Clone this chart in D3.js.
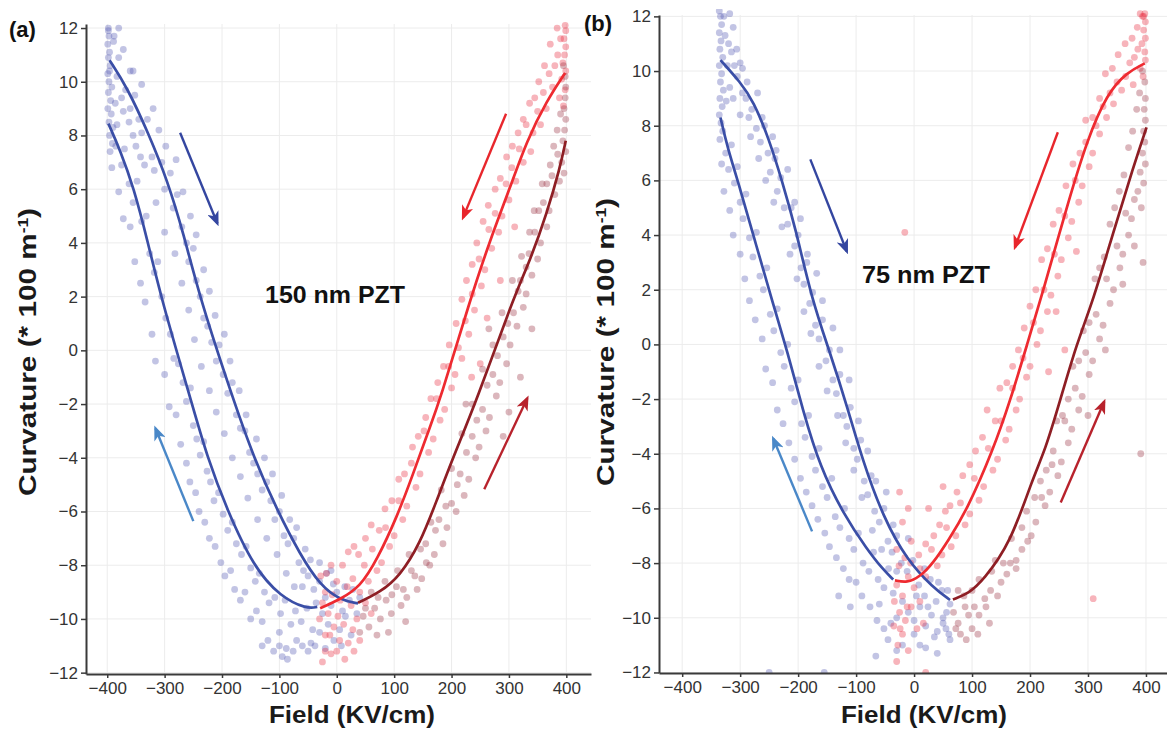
<!DOCTYPE html>
<html>
<head>
<meta charset="utf-8">
<script src="https://cdn.jsdelivr.net/npm/d3@7"></script>
<style>
  body { margin: 0; background: #fff; }
  svg { font-family: "Liberation Sans", Arial, sans-serif; }
</style>
</head>
<body>
<svg id="chart" width="1167" height="729"></svg>
<script>
// ---- data ----
const fieldTicks = [-400, -300, -200, -100, 0, 100, 200, 300, 400];
const curvTicks = [-12, -10, -8, -6, -4, -2, 0, 2, 4, 6, 8, 10, 12];

// panel (a) 150 nm PZT : fitted branches
const aBlueUpper = [[-396,10.8],[-365,9.78],[-328,8.07],[-295,6.32],[-267,4.35],[-238,1.9],[-180,-1.86],[-145,-3.97],[-104,-5.95],[-64,-7.6],[-29,-8.75],[6,-9.3],[37,-9.42]];
const aBlueLower = [[-398,8.44],[-377,7.43],[-354,6.06],[-330,4.1],[-305,1.86],[-254,-1.86],[-226,-3.97],[-191,-5.95],[-145,-8.07],[-98,-9.18],[-52,-9.63],[-34,-9.55]];
const aRedDown = [[-29,-9.6],[6,-9.27],[41,-8.8],[70,-7.8],[105,-6.2],[133,-4.6],[158,-3.1],[180,-1.86],[232,1.86],[267,4.1],[302,6.06],[331,7.8],[366,9.3],[398,10.33]];
const aRedUp = [[37,-9.4],[76,-9.0],[110,-8.4],[145,-7.2],[174,-5.6],[203,-3.97],[244,-1.86],[306,1.86],[337,3.35],[366,5.1],[389,6.8],[399,7.8]];

// panel (a) measured points
const aBluePts = [
  [-398,12.0],[-397,11.7],[-399,11.4],[-396,11.1],[-398,10.9],[-395,10.6],[-399,10.3],[-397,10.0],[-392,9.8],[-398,9.6],
  [-394,9.3],[-399,9.0],[-393,8.8],[-397,8.5],[-390,8.3],[-396,8.0],[-391,7.7],[-395,7.4],[-386,9.2],[-383,10.2],
  [-380,10.9],[-372,11.2],[-375,9.4],[-368,9.7],[-360,9.0],[-352,9.5],[-345,8.6],[-398,11.9],[-396,10.4],[-389,11.5],
  [-340,8.1],[-330,8.6],[-322,7.2],[-318,6.7],[-305,7.0],[-300,6.0],[-290,6.6],[-285,5.3],[-278,5.8],[-270,4.6],
  [-262,4.0],[-258,3.3],[-250,3.8],[-245,2.6],[-238,2.0],[-232,1.2],[-225,0.9],[-218,0.3],[-210,-0.4],[-205,0.2],
  [-198,-0.9],[-190,-1.6],[-182,-1.2],[-175,-2.4],[-168,-2.9],[-160,-3.0],[-152,-3.8],[-145,-4.2],[-138,-4.6],[-130,-5.2],
  [-122,-4.9],[-115,-5.6],[-108,-6.3],[-100,-6.0],[-92,-6.9],[-85,-7.2],[-75,-7.0],[-66,-7.9],[-58,-8.2],[-50,-8.4],
  [-40,-8.9],[-30,-8.6],[-20,-9.2],[-10,-9.5],[0,-9.0],[10,-9.7],[22,-9.3],[35,-9.8],
  [-385,7.6],[-375,6.9],[-370,7.5],[-362,6.2],[-355,5.5],[-348,6.3],[-340,4.8],[-332,5.0],[-326,3.6],[-318,2.9],
  [-312,3.3],[-305,2.0],[-298,1.2],[-290,0.6],[-284,-0.3],[-276,-0.5],[-268,-1.2],[-262,-1.9],[-255,-1.4],[-250,-2.8],
  [-244,-3.3],[-238,-3.9],[-232,-3.4],[-226,-4.5],[-220,-4.9],[-214,-5.6],[-206,-5.3],[-198,-6.1],[-190,-6.7],[-182,-6.4],
  [-175,-7.2],[-166,-7.6],[-158,-7.3],[-150,-8.1],[-142,-8.6],[-135,-8.3],[-126,-9.0],[-118,-9.4],[-108,-9.2],[-98,-9.8],
  [-90,-9.3],[-80,-10.2],[-72,-9.7],[-62,-10.1],[-52,-9.6],[-42,-10.4],
  [-150,-10.0],[-120,-10.8],[-110,-11.2],[-95,-11.4],[-88,-11.1],[-70,-10.8],[-60,-11.0],[-45,-10.9],[-30,-10.5],[-15,-10.2],
  [-5,-10.8],[5,-10.4],[15,-9.9],[25,-10.6],[-100,-10.5],[-25,-9.8],[-60,-8.8],[-30,-7.9],[-10,-8.2],
  [-355,10.4],[-340,9.9],[-350,7.6],[-320,9.0],[-335,6.9],[-310,8.2],[-298,7.6],[-315,5.5],[-280,7.1],[-300,4.4],
  [-268,5.9],[-282,3.6],[-255,5.0],[-270,2.5],[-245,4.3],[-258,1.5],[-232,3.0],[-248,0.4],[-222,2.2],[-236,-0.6],
  [-212,1.3],[-222,-1.5],[-196,0.6],[-210,-2.3],[-186,-0.4],[-196,-3.1],[-170,-1.5],[-182,-4.0],[-158,-2.4],[-168,-4.7],
  [-140,-3.3],[-155,-5.5],[-126,-4.0],[-138,-6.3],[-112,-4.6],[-122,-7.0],[-96,-5.4],[-104,-7.6],[-82,-6.3],[-88,-8.3],
  [-70,-6.6],[-74,-8.8],[-55,-7.4],[-46,-7.8],[-36,-9.4],[-18,-8.3],[-6,-8.7],[14,-8.8],[28,-8.9],[40,-9.2],
  [-392,6.8],[-380,5.9],[-372,4.9],[-360,4.6],[-352,3.3],[-342,2.5],[-334,1.8],[-322,0.6],[-316,-0.4],[-300,-0.9],
  [-292,-2.1],[-280,-2.4],[-272,-3.5],[-262,-4.2],[-256,-4.9],[-246,-5.3],[-240,-6.0],[-230,-6.4],[-222,-7.0],[-212,-7.3],
  [-202,-7.9],[-195,-8.4],[-185,-8.2],[-178,-8.9],[-168,-9.3],[-160,-9.0],[-140,-9.7],[-130,-10.1],[-76,-11.2],[-86,-11.5],
  [-100,-11.0],[-130,-11.0],[-50,-11.2],[-38,-11.0],[-20,-11.1],[8,-11.0],[-355,8.0],[-362,8.5],[-342,7.2],[-372,8.9],
  [-383,8.4],[-360,10.4],[-388,11.7],[-380,12.0]
];
const aRedPts = [
  [398,12.1],[399,11.9],[396,11.6],[399,11.3],[397,11.0],[394,10.7],[399,10.4],[392,10.1],[398,9.7],[388,9.4],
  [395,9.1],[385,11.0],[380,10.6],[376,9.8],[370,10.3],[365,9.0],[360,9.6],[355,8.4],[350,8.9],[342,8.1],
  [338,7.4],[330,8.4],[325,7.0],[318,7.5],[312,6.3],[305,6.8],[300,5.6],[295,6.2],[288,5.0],[282,4.4],
  [276,5.1],[270,3.8],[265,4.5],[258,3.0],[252,2.4],[248,3.4],[240,1.5],[236,2.1],[230,0.6],[224,1.1],
  [218,-0.3],[212,0.1],[206,-0.9],[200,-1.4],[195,-0.6],[188,-2.2],[180,-2.6],[174,-1.8],[168,-3.3],[160,-3.8],
  [152,-3.0],[145,-4.6],[138,-5.1],[130,-4.2],[122,-5.8],[115,-6.3],[108,-5.6],[100,-6.9],[92,-7.3],[85,-6.6],
  [78,-7.9],[70,-8.2],[62,-7.4],[55,-8.6],[48,-8.0],[40,-9.0],[30,-7.3],[20,-7.5],[10,-8.0],[0,-8.6],
  [-10,-8.0],[-20,-9.0],[-25,-9.4],[-15,-9.8],[-5,-10.3],[5,-10.8],[12,-10.2],[20,-10.9],[28,-10.4],[-20,-10.6],
  [-10,-11.3],[-25,-11.6],[0,-11.2],[-30,-10.0],[35,-10.0],[25,-9.5],
  [390,11.6],[384,12.0],[372,11.4],[362,10.6],[352,10.0],[345,9.4],[336,9.2],[325,8.6],[316,8.1],[306,7.6],
  [296,7.2],[285,6.4],[276,6.0],[264,5.4],[255,4.8],[244,4.0],[236,3.2],[226,2.6],[218,1.9],[208,1.0],
  [196,0.2],[186,-0.6],[176,-1.2],[164,-1.8],[155,-2.5],[142,-3.2],[132,-3.6],[118,-4.6],[108,-4.8],[96,-5.6],
  [84,-5.9],[74,-6.7],[60,-6.5],[50,-7.0],[38,-7.6],[28,-8.5],[18,-8.8],[6,-9.3],[-8,-9.1],[-18,-8.3],
  [-28,-8.4],[60,-9.8],[50,-9.4],[40,-10.8],[-12,-10.6],[2,-9.9],[14,-11.5],[-20,-11.2],[30,-11.2],[250,-0.5],
  [262,1.2],[235,-1.0],[285,2.6],[310,4.6]
];
const aDarkPts = [
  [399,9.8],[398,9.4],[396,9.0],[399,8.6],[397,8.2],[394,7.8],[399,7.4],[392,7.0],[396,6.6],[388,6.3],
  [385,7.3],[380,5.8],[375,6.5],[370,5.2],[366,4.6],[360,5.5],[355,4.0],[350,3.4],[345,4.4],[340,2.8],
  [335,3.6],[330,2.1],[325,1.6],[320,2.6],[314,0.9],[308,1.4],[302,0.2],[296,-0.5],[290,0.5],[284,-1.2],
  [278,-1.7],[272,-0.9],[266,-2.5],[260,-3.0],[254,-2.2],[248,-3.6],[242,-4.0],[236,-3.2],[230,-4.8],[222,-5.4],
  [215,-4.6],[208,-6.0],[200,-5.7],[192,-6.6],[185,-7.2],[178,-6.3],[170,-7.6],[162,-8.0],[155,-7.2],[148,-8.5],
  [140,-8.9],[130,-8.2],[122,-9.2],[112,-9.5],[104,-8.8],[95,-9.8],[86,-9.3],[76,-10.0],[66,-9.6],[56,-10.3],
  [46,-9.9],[40,-10.5],[225,-2.0],[300,-2.3],[265,0.8],
  [398,10.2],[395,10.6],[390,8.8],[384,8.2],[378,7.6],[372,6.9],[366,6.2],[358,6.2],[352,5.2],[344,5.2],
  [336,4.4],[330,3.1],[322,3.5],[316,2.2],[306,2.6],[298,1.0],[288,1.4],[280,-0.2],[272,0.2],[262,-1.3],
  [254,-0.7],[244,-2.6],[236,-2.0],[226,-3.8],[218,-3.1],[210,-5.0],[200,-4.4],[190,-5.8],[182,-5.2],[172,-6.7],
  [164,-6.4],[156,-7.9],[146,-7.4],[136,-8.4],[126,-7.6],[116,-8.9],[106,-8.2],[96,-9.1],[84,-8.6],[72,-9.2],
  [60,-9.0],[50,-9.6],[90,-10.5],[120,-10.1],[70,-10.6],[320,-1.0],[340,0.8],[290,-3.2]
];
const aArrowBlueDown = [[-273,8.1],[-208,4.72]];
const aArrowBlueUp = [[-250,-6.36],[-316,-2.9]];
const aArrowRedDown = [[295,8.81],[220,4.94]];
const aArrowRedUp = [[257,-5.17],[332,-1.78]];

// panel (b) 75 nm PZT : fitted branches
const bBlueUpper = [[-334,10.4],[-300,9.6],[-277,8.9],[-250,7.5],[-228,6.0],[-205,4.3],[-176,1.61],[-145,-0.3],[-115,-2.3],[-88,-4.3],[-53,-6.33],[-12,-7.9],[33,-8.9],[62,-9.35]];
const bBlueLower = [[-334,8.3],[-322,7.2],[-300,5.7],[-272,3.6],[-245,1.61],[-218,-0.3],[-192,-2.4],[-162,-4.5],[-122,-6.2],[-81,-7.5],[-55,-8.2],[-36,-8.6]];
const bRedDown = [[-33,-8.63],[-12,-8.72],[10,-8.5],[33,-8.0],[59,-7.17],[91,-6.07],[136,-3.88],[166,-2.05],[195,0],[223,1.98],[263,5.0],[298,7.46],[333,9.18],[367,9.95],[398,10.28]];
const bRedUp = [[67,-9.33],[95,-9.1],[119,-8.63],[166,-7.3],[205,-4.87],[226,-3.88],[252,-2.05],[280,0],[309,1.61],[343,4.06],[378,6.48],[401,7.94]];

const bBluePts = [
  [-336,12.2],[-334,12.0],[-332,11.7],[-336,11.4],[-333,11.1],[-335,10.8],[-330,10.5],[-336,10.2],[-332,9.9],[-334,9.6],
  [-329,9.3],[-335,9.0],[-331,8.7],[-336,8.4],[-333,8.1],[-330,7.8],[-335,7.5],[-326,11.3],[-320,11.0],[-315,10.7],
  [-318,12.1],[-310,10.2],[-305,9.8],[-300,10.3],[-296,9.2],[-290,9.0],[-285,8.3],[-318,9.4],[-324,8.9],[-280,8.6],
  [-272,7.9],[-265,7.4],[-258,8.0],[-252,7.0],[-248,6.3],[-240,6.8],[-236,5.6],[-230,6.1],[-224,5.0],[-218,4.4],
  [-212,5.0],[-206,3.6],[-200,4.0],[-195,2.8],[-190,2.2],[-185,3.0],[-180,1.5],[-175,1.9],[-170,0.7],[-164,0.2],
  [-158,0.9],[-152,-0.6],[-146,-0.2],[-140,-1.3],[-134,-1.8],[-128,-1.1],[-122,-2.6],[-116,-3.0],[-110,-2.3],[-104,-3.8],
  [-98,-4.2],[-92,-3.5],[-86,-5.0],[-80,-5.5],[-74,-4.8],[-68,-6.1],[-60,-6.5],[-52,-6.0],[-45,-7.2],[-38,-7.6],
  [-30,-7.0],[-22,-8.0],[-12,-8.3],[-2,-7.9],[8,-8.8],[18,-9.2],[28,-8.6],[38,-9.4],[48,-9.0],[56,-9.8],[62,-9.5],
  [-325,7.0],[-320,6.4],[-315,7.3],[-310,5.9],[-305,6.5],[-300,5.2],[-295,4.6],[-290,5.5],[-284,3.9],[-278,3.2],
  [-272,4.1],[-266,2.5],[-260,2.0],[-254,2.8],[-248,1.1],[-242,0.5],[-236,1.3],[-230,-0.3],[-224,-0.8],[-218,0.0],
  [-212,-1.6],[-206,-2.1],[-200,-1.3],[-194,-2.9],[-188,-3.4],[-182,-2.6],[-176,-4.1],[-170,-4.6],[-164,-3.8],[-158,-5.2],
  [-150,-5.6],[-142,-4.9],[-136,-6.3],[-128,-6.7],[-120,-6.0],[-112,-7.1],[-104,-7.5],[-96,-6.9],[-88,-8.0],[-78,-8.3],
  [-70,-7.6],[-62,-8.6],[-52,-8.9],[-44,-8.2],[-36,-9.1],[-20,-9.4],[-10,-9.8],[0,-10.1],[10,-9.6],[20,-10.3],
  [30,-9.9],[40,-10.5],[50,-10.2],[60,-10.6],[-30,-10.0],[-60,-9.5],[-45,-10.8],[-20,-11.0],[0,-10.6],[20,-11.1],
  [35,-10.7],[62,-10.8],[-66,-11.4],[-250,-12.0],[-155,-12.0],
  [-328,12.0],[-312,11.6],[-322,10.2],[-306,10.8],[-296,10.1],[-312,9.0],[-288,9.6],[-300,8.4],[-270,9.2],[-282,7.6],
  [-262,8.3],[-268,6.8],[-244,7.6],[-256,6.0],[-238,7.1],[-242,5.2],[-218,6.4],[-228,4.3],[-206,5.2],[-214,3.3],
  [-196,4.6],[-202,2.4],[-184,3.3],[-190,1.2],[-168,2.6],[-178,0.4],[-158,1.6],[-164,-0.8],[-140,0.6],[-150,-1.7],
  [-128,-0.2],[-132,-2.6],[-112,-1.3],[-118,-3.6],[-96,-2.8],[-104,-4.6],[-80,-3.9],[-90,-5.6],[-66,-5.0],[-72,-6.8],
  [-48,-5.4],[-56,-7.5],[-36,-6.6],[-30,-8.3],[-10,-7.1],[4,-9.2],[18,-8.2],[24,-9.6],[42,-8.7],[50,-10.0],[58,-9.0],
  [-332,6.6],[-328,5.6],[-318,4.9],[-312,4.0],[-300,3.3],[-292,2.4],[-284,1.6],[-274,0.9],[-262,0.2],[-256,-0.9],
  [-244,-1.4],[-236,-2.4],[-226,-2.9],[-216,-3.6],[-206,-4.2],[-196,-4.9],[-186,-5.4],[-176,-5.9],[-166,-6.4],[-154,-6.9],
  [-146,-7.4],[-134,-7.8],[-122,-8.2],[-112,-8.6],[-100,-8.7],[-90,-9.2],[-76,-9.6],[-64,-10.1],[-52,-10.4],[-40,-10.2],
  [-30,-11.2],[10,-11.0],[40,-11.3],[55,-10.4],[-130,-9.2],[-110,-9.6]
];
const bRedPts = [
  [398,12.1],[394,12.0],[390,12.1],[399,11.8],[396,11.5],[399,11.2],[393,11.0],[398,10.7],[386,10.8],[399,10.4],
  [380,10.5],[390,10.1],[372,10.3],[395,9.8],[365,9.8],[378,9.5],[358,9.3],[350,9.6],[344,8.8],[338,9.2],
  [332,8.3],[326,8.7],[320,7.7],[314,8.0],[308,7.0],[302,6.5],[296,7.4],[290,5.8],[284,5.2],[278,6.0],
  [272,4.5],[266,3.9],[260,4.7],[254,3.1],[248,2.5],[242,3.3],[236,1.8],[230,1.2],[224,2.0],[218,0.5],
  [212,0.0],[206,0.8],[200,-0.8],[194,-1.2],[188,-0.5],[182,-2.0],[176,-2.4],[170,-1.6],[164,-3.1],[158,-3.5],
  [150,-2.8],[144,-4.2],[136,-4.6],[128,-3.8],[120,-5.2],[112,-5.7],[104,-4.9],[96,-6.2],[88,-6.6],[80,-5.8],
  [72,-7.0],[64,-7.4],[56,-6.7],[48,-7.7],[40,-8.1],[30,-7.5],[20,-8.5],[10,-8.2],[0,-8.9],[-10,-8.5],
  [-20,-9.2],[-30,-8.8],[-25,-9.8],[-15,-10.1],[-5,-9.6],[-35,-10.3],[-20,-10.6],[-10,-11.2],[5,-10.4],[-30,-7.5],
  [-20,-6.5],[-5,-7.2],[25,-6.0],[50,-5.2],[-16,4.1],[309,-9.3],[-30,-11.6],[20,-12.0],
  [396,12.0],[385,11.6],[376,11.2],[364,11.0],[352,10.6],[342,10.1],[330,9.9],[320,9.0],[308,8.3],[296,8.2],
  [286,7.0],[274,6.6],[262,5.8],[250,4.9],[240,4.4],[230,3.5],[220,3.1],[210,2.0],[200,1.4],[190,0.6],
  [180,-0.2],[170,-0.8],[160,-1.4],[148,-1.6],[140,-2.8],[126,-2.4],[118,-3.4],[106,-3.9],[96,-4.4],[84,-4.8],
  [74,-5.4],[62,-5.9],[54,-6.1],[44,-6.6],[34,-7.0],[20,-7.3],[8,-7.7],[-6,-8.0],[-16,-7.8],[-26,-8.1],
  [-34,-9.4],[-24,-10.4],[-12,-9.6],[-28,-11.0],[10,-9.4],[16,-10.2],[260,-0.2],[245,1.2],[280,3.4],[232,-1.0],
  [-10,-6.0],[-25,-5.4]
];
const bDarkPts = [
  [399,9.0],[397,8.6],[399,8.2],[396,7.8],[398,7.4],[394,7.0],[399,6.6],[390,6.3],[396,5.9],[386,5.6],
  [392,5.0],[380,5.3],[375,4.6],[370,4.0],[365,4.8],[360,3.3],[355,2.8],[350,3.6],[344,2.0],[338,1.5],
  [332,2.4],[326,0.7],[320,0.2],[314,1.1],[308,-0.6],[302,-1.1],[296,-0.3],[290,-1.9],[284,-2.4],[278,-1.6],
  [272,-3.1],[266,-3.6],[260,-2.8],[254,-4.3],[248,-4.8],[240,-3.9],[234,-5.4],[226,-5.9],[218,-5.0],[210,-6.5],
  [202,-7.0],[194,-6.1],[186,-7.5],[176,-7.9],[168,-7.1],[160,-8.4],[150,-8.7],[140,-7.9],[132,-9.0],[122,-9.3],
  [112,-8.6],[104,-9.6],[94,-9.9],[86,-9.2],[76,-10.2],[68,-9.8],[80,-10.6],[100,-10.4],[391,-4.0],[395,3.0],
  [398,9.6],[394,10.0],[389,9.2],[384,8.6],[377,7.8],[370,7.2],[362,6.2],[354,5.6],[346,5.0],[338,4.4],
  [328,3.2],[320,2.8],[312,2.4],[302,0.8],[292,0.5],[284,-0.6],[274,-0.8],[266,-2.0],[256,-2.6],[246,-2.8],
  [238,-4.4],[228,-4.6],[220,-5.6],[208,-5.6],[196,-7.2],[186,-6.7],[176,-8.2],[166,-8.0],[154,-8.0],[144,-9.2],
  [134,-8.3],[124,-9.6],[112,-9.9],[100,-9.0],[88,-9.6],[76,-9.0],[72,-10.4],[90,-10.8],[110,-10.6],[130,-10.2],
  [300,-2.6],[330,-0.2],[360,2.2],[380,3.6]
];
const bArrowBlueDown = [[-179,6.77],[-116,3.40]];
const bArrowBlueUp = [[-176,-6.84],[-243,-3.44]];
const bArrowRedDown = [[248,7.76],[174,3.55]];
const bArrowRedUp = [[253,-5.78],[328,-2.09]];

// ---- layout / styles ----
const C = {
  bluePt: "#555bb4", redPt: "#ea3043", darkPt: "#9c3446",
  blueLine: "#3a4ea6", redLine: "#ee2a30", darkLine: "#8e1e24",
  arrowDarkBlue: "#3446a0", arrowLightBlue: "#4a88c8", arrowRed: "#e8262c", arrowDarkRed: "#b8222c"
};

const panels = [
  { tag: "(a)", tagPos: [9, 37], name: "150 nm PZT", namePos: [-125, 1.75], nameLen: 140,
    xDom: [-437, 443], xRng: [86, 591], yDom: [-12.05, 12.15], yRng: [674, 24],
    xTitleX: 352, yTitleX: 36, yTitleY: 352,
    blue: aBluePts, red: aRedPts, dark: aDarkPts,
    lines: [[aBlueUpper, C.blueLine], [aBlueLower, C.blueLine], [aRedDown, C.redLine], [aRedUp, C.darkLine]],
    arrows: [[aArrowBlueDown, C.arrowDarkBlue], [aArrowBlueUp, C.arrowLightBlue], [aArrowRedDown, C.arrowRed], [aArrowRedUp, C.arrowDarkRed]] },
  { tag: "(b)", tagPos: [584, 31], name: "75 nm PZT", namePos: [-90, 2.25], nameLen: 128,
    xDom: [-440, 438], xRng: [659, 1168], yDom: [-12.02, 12.05], yRng: [673, 15],
    xTitleX: 924, yTitleX: 614, yTitleY: 342,
    blue: bBluePts, red: bRedPts, dark: bDarkPts,
    lines: [[bBlueUpper, C.blueLine], [bBlueLower, C.blueLine], [bRedDown, C.redLine], [bRedUp, C.darkLine]],
    arrows: [[bArrowBlueDown, C.arrowDarkBlue], [bArrowBlueUp, C.arrowLightBlue], [bArrowRedDown, C.arrowRed], [bArrowRedUp, C.arrowDarkRed]] }
];

const svg = d3.select("#chart");
const defs = svg.append("defs");

// one arrowhead marker per colour
Object.entries(C).filter(([k]) => k.startsWith("arrow")).forEach(([k, col]) => {
  defs.append("marker")
    .attr("id", "m-" + k)
    .attr("viewBox", "0 0 15 12")
    .attr("refX", 12).attr("refY", 6)
    .attr("markerWidth", 15).attr("markerHeight", 12)
    .attr("markerUnits", "userSpaceOnUse")
    .attr("orient", "auto")
    .append("path")
    .attr("d", "M0,0 L15,6 L0,12 L4,6 Z")
    .attr("fill", col);
});
const markerFor = (col) => Object.keys(C).find((k) => k.startsWith("arrow") && C[k] === col);

panels.forEach((p) => {
  const x = d3.scaleLinear().domain(p.xDom).range(p.xRng);
  const y = d3.scaleLinear().domain(p.yDom).range(p.yRng);
  const g = svg.append("g");
  const clipId = "clip" + p.tag.replace(/\W/g, "");
  defs.append("clipPath").attr("id", clipId)
    .append("rect")
    .attr("x", p.xRng[0]).attr("y", p.yRng[1] - 6)
    .attr("width", p.xRng[1] - p.xRng[0]).attr("height", p.yRng[0] - p.yRng[1] + 6);

  // grid
  g.append("g").selectAll("line").data(fieldTicks).join("line")
    .attr("x1", (d) => x(d)).attr("x2", (d) => x(d))
    .attr("y1", p.yRng[0]).attr("y2", p.yRng[1])
    .attr("stroke", "#ececec").attr("stroke-width", 1);
  g.append("g").selectAll("line").data(curvTicks).join("line")
    .attr("x1", p.xRng[0]).attr("x2", p.xRng[1])
    .attr("y1", (d) => y(d)).attr("y2", (d) => y(d))
    .attr("stroke", "#ececec").attr("stroke-width", 1);

  // scatter
  const pts = g.append("g").attr("clip-path", `url(#${clipId})`);
  [[p.blue, C.bluePt], [p.red, C.redPt], [p.dark, C.darkPt]].forEach(([arr, col]) => {
    pts.append("g").selectAll("circle").data(arr).join("circle")
      .attr("cx", (d) => x(d[0])).attr("cy", (d) => y(d[1]))
      .attr("r", 3.4)
      .attr("fill", col).attr("fill-opacity", 0.36);
  });

  // fitted branches
  const line = d3.line().x((d) => x(d[0])).y((d) => y(d[1])).curve(d3.curveBasis);
  p.lines.forEach(([arr, col]) => {
    g.append("path").datum(arr).attr("d", line)
      .attr("fill", "none").attr("stroke", col).attr("stroke-width", 2.7);
  });

  // direction arrows
  p.arrows.forEach(([arr, col]) => {
    g.append("line")
      .attr("x1", x(arr[0][0])).attr("y1", y(arr[0][1]))
      .attr("x2", x(arr[1][0])).attr("y2", y(arr[1][1]))
      .attr("stroke", col).attr("stroke-width", 2.4)
      .attr("marker-end", `url(#m-${markerFor(col)})`);
  });

  // axes
  const xAxis = g.append("g").attr("transform", `translate(0,${p.yRng[0]})`)
    .call(d3.axisBottom(x).tickValues(fieldTicks).tickSize(4).tickPadding(4).tickSizeOuter(0));
  const yAxis = g.append("g").attr("transform", `translate(${p.xRng[0]},0)`)
    .call(d3.axisLeft(y).tickValues(curvTicks).tickSize(5).tickPadding(3).tickSizeOuter(0));
  [xAxis, yAxis].forEach((a) => {
    a.select(".domain").attr("stroke", "#3a3a3a").attr("stroke-width", 2);
    a.selectAll(".tick line").attr("stroke", "#3a3a3a").attr("stroke-width", 1.5);
    a.selectAll(".tick text").attr("fill", "#333").style("font-size", "17px")
      .style("font-family", '"Liberation Sans", Arial, sans-serif');
  });

  // titles
  g.append("text").attr("x", p.xTitleX).attr("y", 723)
    .attr("text-anchor", "middle").attr("font-weight", "bold").attr("font-size", 23)
    .attr("fill", "#1a1a1a")
    .attr("textLength", 166).attr("lengthAdjust", "spacingAndGlyphs")
    .text("Field (KV/cm)");

  const yt = g.append("text")
    .attr("transform", `translate(${p.yTitleX},${p.yTitleY}) rotate(-90)`)
    .attr("text-anchor", "middle").attr("font-weight", "bold").attr("font-size", 24)
    .attr("fill", "#1a1a1a")
    .attr("textLength", 288).attr("lengthAdjust", "spacingAndGlyphs");
  yt.append("tspan").text("Curvature (* 100 m");
  yt.append("tspan").attr("dy", -8).attr("font-size", 14).text("-1");
  yt.append("tspan").attr("dy", 8).text(")");

  g.append("text").attr("x", x(p.namePos[0])).attr("y", y(p.namePos[1]))
    .attr("font-weight", "bold").attr("font-size", 23).attr("fill", "#111")
    .attr("textLength", p.nameLen).attr("lengthAdjust", "spacingAndGlyphs")
    .text(p.name);

  g.append("text").attr("x", p.tagPos[0]).attr("y", p.tagPos[1])
    .attr("font-weight", "bold").attr("font-size", 22).attr("fill", "#111")
    .text(p.tag);
});
</script>
</body>
</html>
